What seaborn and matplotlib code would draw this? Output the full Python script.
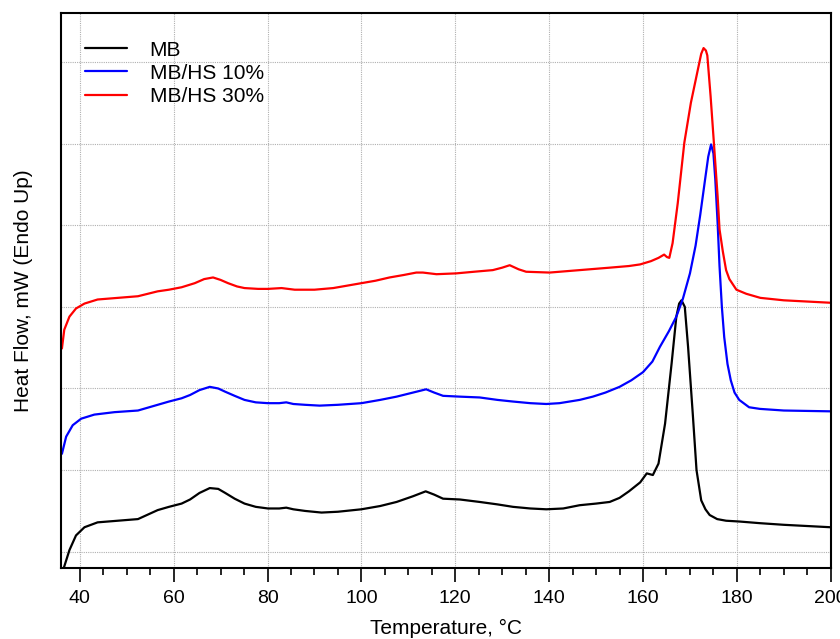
import numpy as np
import pandas as pd
import matplotlib
matplotlib.use("Agg")
import matplotlib.pyplot as plt
import seaborn as sns
from matplotlib.ticker import MultipleLocator, NullFormatter
from matplotlib.lines import Line2D

# ---- data (heat flow in arbitrary units) ----
t_mb = [36.4, 36.7, 37.8, 39.2, 41, 43.8, 48.1, 52.4, 56.6, 59, 61.7, 63.5, 65.5, 67.7,
        69.5, 71, 73, 75.1, 77.5, 80.1, 82.5, 84, 85.5, 88, 91.5, 95, 100, 104, 107.5,
        111, 113.7, 115.5, 117.4, 121, 125.2, 129, 132.3, 136, 139.4, 143, 146.5, 150,
        152.9, 155, 157, 159.4, 160.8, 162.1, 163.3, 164.7, 166.1, 167.1, 167.7, 168.2,
        168.9, 169.6, 170.6, 171.4, 172.4, 173.3, 174.2, 175.8, 177.7, 180.6, 184.9,
        190, 200]
hf_mb = [-0.22, -0.18, 0.02, 0.20, 0.30, 0.36, 0.38, 0.40, 0.51, 0.55, 0.59, 0.64, 0.72, 0.78,
         0.77, 0.72, 0.65, 0.59, 0.55, 0.53, 0.53, 0.54, 0.52, 0.50, 0.48, 0.49, 0.52, 0.56, 0.61,
         0.68, 0.74, 0.70, 0.65, 0.64, 0.61, 0.58, 0.55, 0.53, 0.52, 0.53, 0.57, 0.59,
         0.61, 0.66, 0.74, 0.85, 0.96, 0.94, 1.08, 1.57, 2.31, 2.88, 3.04, 3.08,
         3.00, 2.51, 1.69, 1.00, 0.63, 0.52, 0.45, 0.40, 0.38, 0.37, 0.35,
         0.33, 0.30]

t_hs10 = [36.2, 37.1, 38.5, 40.3, 43.1, 47.4, 52.4, 56.6, 59, 61.7, 63.5, 65.5, 67.7, 69.5,
          71, 73, 75.1, 77.5, 80.1, 82.5, 84, 85.5, 88, 91.1, 95, 100, 104, 107.5, 111,
          113.8, 115.5, 117.4, 121, 125.2, 129, 132.3, 136, 139.4, 142.2, 146.5, 149.3,
          152, 155, 157.5, 160, 162, 163.6, 165.5, 167.1, 168.5, 170, 171.2, 172.2, 173.2,
          173.9, 174.5, 175.0, 175.4, 175.9, 176.3, 176.8, 177.3, 178, 178.7, 179.5,
          180.5, 182.6, 184.9, 190, 200]
hf_hs10 = [1.20, 1.41, 1.55, 1.63, 1.68, 1.71, 1.73, 1.80, 1.84, 1.88, 1.92, 1.98, 2.02, 2.00,
           1.96, 1.91, 1.86, 1.83, 1.82, 1.82, 1.83, 1.81, 1.80, 1.79, 1.80, 1.82, 1.86, 1.90, 1.95,
           1.99, 1.95, 1.91, 1.90, 1.89, 1.86, 1.84, 1.82, 1.81, 1.82, 1.86, 1.90,
           1.95, 2.02, 2.10, 2.20, 2.33, 2.51, 2.70, 2.88, 3.10, 3.41, 3.75, 4.13, 4.55,
           4.84, 4.99, 4.88, 4.56, 4.02, 3.50, 3.00, 2.63, 2.30, 2.10, 1.95,
           1.86, 1.77, 1.75, 1.73, 1.72]

t_hs30 = [36.2, 36.7, 37.8, 39.2, 41, 43.8, 48.1, 52.4, 56.6, 59, 61.7, 64.5, 66.5, 68.4,
          70, 71.6, 73.5, 75.1, 78, 80.1, 83, 85.8, 90, 94, 97, 100, 103, 106, 109, 111.7,
          113.1, 116, 120.2, 124, 128, 130, 131.6, 133.5, 135.1, 140.1, 146.5, 152.9, 157,
          159.4, 161.7, 163.3, 164.5, 165.1, 165.6, 166.3, 167.4, 168.8, 170.2, 171.7,
          172.4, 172.9, 173.4, 173.7, 174.4, 175.1, 175.9, 176.3, 177.0, 177.7, 178.4,
          179.9, 182, 185, 190, 200]
hf_hs30 = [2.49, 2.72, 2.88, 2.98, 3.04, 3.09, 3.11, 3.13, 3.19, 3.21, 3.24, 3.29, 3.34, 3.36,
           3.33, 3.29, 3.25, 3.23, 3.22, 3.22, 3.23, 3.21, 3.21, 3.23, 3.26, 3.29, 3.32, 3.36, 3.39, 3.42,
           3.42, 3.40, 3.41, 3.43, 3.45, 3.48, 3.51, 3.46, 3.43, 3.42, 3.45, 3.48, 3.50,
           3.52, 3.56, 3.60, 3.64, 3.61, 3.60, 3.78, 4.27, 5.01, 5.50, 5.91,
           6.10, 6.17, 6.14, 6.08, 5.58, 5.01, 4.35, 3.95, 3.68, 3.45, 3.34,
           3.21, 3.16, 3.11, 3.08, 3.05]

labels = ["MB", "MB/HS 10%", "MB/HS 30%"]
colors = ["#000000", "#0000ff", "#ff0000"]
x_ticks = [40, 60, 80, 100, 120, 140, 160, 180, 200]

df = pd.concat([
    pd.DataFrame({"T": t_mb, "HF": hf_mb, "sample": labels[0]}),
    pd.DataFrame({"T": t_hs10, "HF": hf_hs10, "sample": labels[1]}),
    pd.DataFrame({"T": t_hs30, "HF": hf_hs30, "sample": labels[2]}),
], ignore_index=True)

sns.set_style("white")
plt.rcParams["font.family"] = ["Liberation Sans", "DejaVu Sans"]
plt.rcParams["text.color"] = "black"
plt.rcParams["axes.labelcolor"] = "black"
plt.rcParams["xtick.color"] = "black"
plt.rcParams["ytick.color"] = "black"

fig = plt.figure(figsize=(8.4, 6.39), dpi=100)
ax = fig.add_axes([0.0726, 0.111, 0.9164, 0.8687])

sns.lineplot(data=df, x="T", y="HF", hue="sample", palette=dict(zip(labels, colors)),
             sort=False, estimator=None, linewidth=1.6, ax=ax, legend=False)
for ln in ax.get_lines():
    ln.set_solid_joinstyle("round")
    ln.set_solid_capstyle("round")

ax.set_xlim(36, 200)
ax.set_ylim(-0.2, 6.6)
ax.set_xticks(x_ticks)
ax.set_xticklabels([str(v) for v in x_ticks])
ax.xaxis.set_minor_locator(MultipleLocator(5))
ax.yaxis.set_major_locator(MultipleLocator(1))
ax.yaxis.set_major_formatter(NullFormatter())
ax.tick_params(axis="x", which="major", direction="out", length=10, width=1.2,
               labelsize=14, pad=6, bottom=True, color="black", labelcolor="black")
ax.tick_params(axis="x", which="minor", direction="out", length=5, width=1.2,
               bottom=True, color="black")
ax.tick_params(axis="y", length=0)
ax.grid(True, which="major", color="#b0b0b0", linestyle=(0, (1, 1)), linewidth=0.8)
for s in ax.spines.values():
    s.set_color("black")
    s.set_linewidth(1.5)

ax.set_xlabel("Temperature, °C", fontsize=15, labelpad=8.5, color="black")
ax.set_ylabel("Heat Flow, mW (Endo Up)", fontsize=15, labelpad=17, color="black")

handles = [Line2D([], [], color=c, linewidth=1.6) for c in colors]
leg = ax.legend(handles, labels, loc="upper left", frameon=False, fontsize=15,
                handlelength=2.0, handletextpad=1.1, labelspacing=0.2,
                bbox_to_anchor=(0.007, 0.984))
for txt in leg.get_texts():
    txt.set_color("black")

fig.savefig("out.png", dpi=100)
